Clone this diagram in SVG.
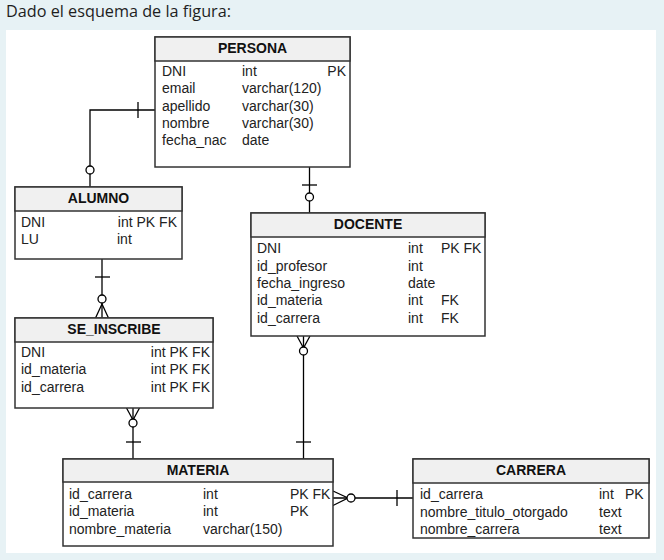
<svg xmlns="http://www.w3.org/2000/svg" width="664" height="560" viewBox="0 0 664 560">
<style>
.bg{fill:#e7f2f5}
.panel{fill:#ffffff}
.title{font-family:"Open Sans","Noto Sans",sans-serif;font-size:15.5px;fill:#1e1e1e}
.box{fill:#ffffff;stroke:#333333;stroke-width:1.5}
.hdr{fill:#f0f0f0;stroke:#333333;stroke-width:1.5}
.ht{font-family:"Liberation Sans",Arial,sans-serif;font-size:14px;font-weight:bold;fill:#111111;text-anchor:middle}
.t{font-family:"Liberation Sans",Arial,sans-serif;font-size:14px;fill:#222222}
.r{text-anchor:end}
.ln{fill:none;stroke:#000000;stroke-width:1.3}
.cir{fill:#ffffff;stroke:#000000;stroke-width:1.3}
</style>
<rect class="bg" x="0" y="0" width="664" height="560"/>
<rect class="panel" x="6" y="30" width="650" height="523"/>
<text class="title" x="6" y="17" textLength="225" lengthAdjust="spacingAndGlyphs">Dado el esquema de la figura:</text>

<g id="connectors">
  <!-- PERSONA - ALUMNO -->
  <path class="ln" d="M155,110 H90 V187"/>
  <line class="ln" x1="138" y1="102" x2="138" y2="118"/>
  <circle class="cir" cx="90" cy="170" r="4"/>
  <!-- PERSONA - DOCENTE -->
  <path class="ln" d="M309.5,167 V213"/>
  <line class="ln" x1="302" y1="185" x2="317" y2="185"/>
  <circle class="cir" cx="309.5" cy="197" r="4"/>
  <!-- ALUMNO - SE_INSCRIBE -->
  <path class="ln" d="M102,259 V318"/>
  <line class="ln" x1="95" y1="277" x2="110" y2="277"/>
  <path class="ln" d="M95.5,318 L102,304 L108.5,318"/>
  <circle class="cir" cx="102" cy="299" r="4"/>
  <!-- SE_INSCRIBE - MATERIA -->
  <path class="ln" d="M133,408 V459"/>
  <path class="ln" d="M126.5,408 L133,420 L139.5,408"/>
  <circle class="cir" cx="133" cy="423" r="4"/>
  <line class="ln" x1="126" y1="442" x2="141" y2="442"/>
  <!-- DOCENTE - MATERIA -->
  <path class="ln" d="M303.5,336 V459"/>
  <path class="ln" d="M297,336 L303.5,348 L310,336"/>
  <circle class="cir" cx="303.5" cy="351" r="4"/>
  <line class="ln" x1="296" y1="442" x2="311" y2="442"/>
  <!-- MATERIA - CARRERA -->
  <path class="ln" d="M333,498 H413"/>
  <path class="ln" d="M333,491 L348,498 L333,505.5"/>
  <circle class="cir" cx="351" cy="498" r="4"/>
  <line class="ln" x1="397" y1="490" x2="397" y2="506"/>
</g>

<g id="persona">
  <rect class="box" x="155" y="37" width="195" height="130"/>
  <rect class="hdr" x="155" y="37" width="195" height="24"/>
  <text class="ht" x="252.5" y="53">PERSONA</text>
  <text class="t" x="162" y="76">DNI</text><text class="t" x="242" y="76">int</text><text class="t r" x="346" y="76">PK</text>
  <text class="t" x="162" y="93.2">email</text><text class="t" x="242" y="93.2">varchar(120)</text>
  <text class="t" x="162" y="110.5">apellido</text><text class="t" x="242" y="110.5">varchar(30)</text>
  <text class="t" x="162" y="127.7">nombre</text><text class="t" x="242" y="127.7">varchar(30)</text>
  <text class="t" x="162" y="145">fecha_nac</text><text class="t" x="242" y="145">date</text>
</g>

<g id="alumno">
  <rect class="box" x="15" y="187" width="167" height="72"/>
  <rect class="hdr" x="15" y="187" width="167" height="24"/>
  <text class="ht" x="98.5" y="203">ALUMNO</text>
  <text class="t" x="21" y="227">DNI</text><text class="t r" x="177" y="227">int PK FK</text>
  <text class="t" x="21" y="244.3">LU</text><text class="t" x="117" y="244.3">int</text>
</g>

<g id="se_inscribe">
  <rect class="box" x="15" y="318" width="198" height="90"/>
  <rect class="hdr" x="15" y="318" width="198" height="24"/>
  <text class="ht" x="114" y="334">SE_INSCRIBE</text>
  <text class="t" x="21" y="357">DNI</text><text class="t r" x="210" y="357">int PK FK</text>
  <text class="t" x="21" y="374.3">id_materia</text><text class="t r" x="210" y="374.3">int PK FK</text>
  <text class="t" x="21" y="391.6">id_carrera</text><text class="t r" x="210" y="391.6">int PK FK</text>
</g>

<g id="docente">
  <rect class="box" x="251" y="213" width="234" height="123"/>
  <rect class="hdr" x="251" y="213" width="234" height="24"/>
  <text class="ht" x="368" y="229">DOCENTE</text>
  <text class="t" x="257" y="253.3">DNI</text><text class="t" x="408" y="253.3">int</text><text class="t" x="441" y="253.3">PK FK</text>
  <text class="t" x="257" y="270.7">id_profesor</text><text class="t" x="408" y="270.7">int</text>
  <text class="t" x="257" y="288">fecha_ingreso</text><text class="t" x="408" y="288">date</text>
  <text class="t" x="257" y="305.3">id_materia</text><text class="t" x="408" y="305.3">int</text><text class="t" x="441" y="305.3">FK</text>
  <text class="t" x="257" y="322.6">id_carrera</text><text class="t" x="408" y="322.6">int</text><text class="t" x="441" y="322.6">FK</text>
</g>

<g id="materia">
  <rect class="box" x="63" y="459" width="270" height="87"/>
  <rect class="hdr" x="63" y="459" width="270" height="23"/>
  <text class="ht" x="198" y="474.5">MATERIA</text>
  <text class="t" x="69" y="499">id_carrera</text><text class="t" x="203" y="499">int</text><text class="t" x="290" y="499">PK FK</text>
  <text class="t" x="69" y="516.3">id_materia</text><text class="t" x="203" y="516.3">int</text><text class="t" x="290" y="516.3">PK</text>
  <text class="t" x="69" y="533.6">nombre_materia</text><text class="t" x="203" y="533.6">varchar(150)</text>
</g>

<g id="carrera">
  <rect class="box" x="413" y="459" width="236" height="79"/>
  <rect class="hdr" x="413" y="459" width="236" height="24"/>
  <text class="ht" x="531" y="475">CARRERA</text>
  <text class="t" x="420" y="499.3">id_carrera</text><text class="t" x="599" y="499.3">int</text><text class="t" x="625" y="499.3">PK</text>
  <text class="t" x="420" y="516.5">nombre_titulo_otorgado</text><text class="t" x="599" y="516.5">text</text>
  <text class="t" x="420" y="533.7">nombre_carrera</text><text class="t" x="599" y="533.7">text</text>
</g>
</svg>
